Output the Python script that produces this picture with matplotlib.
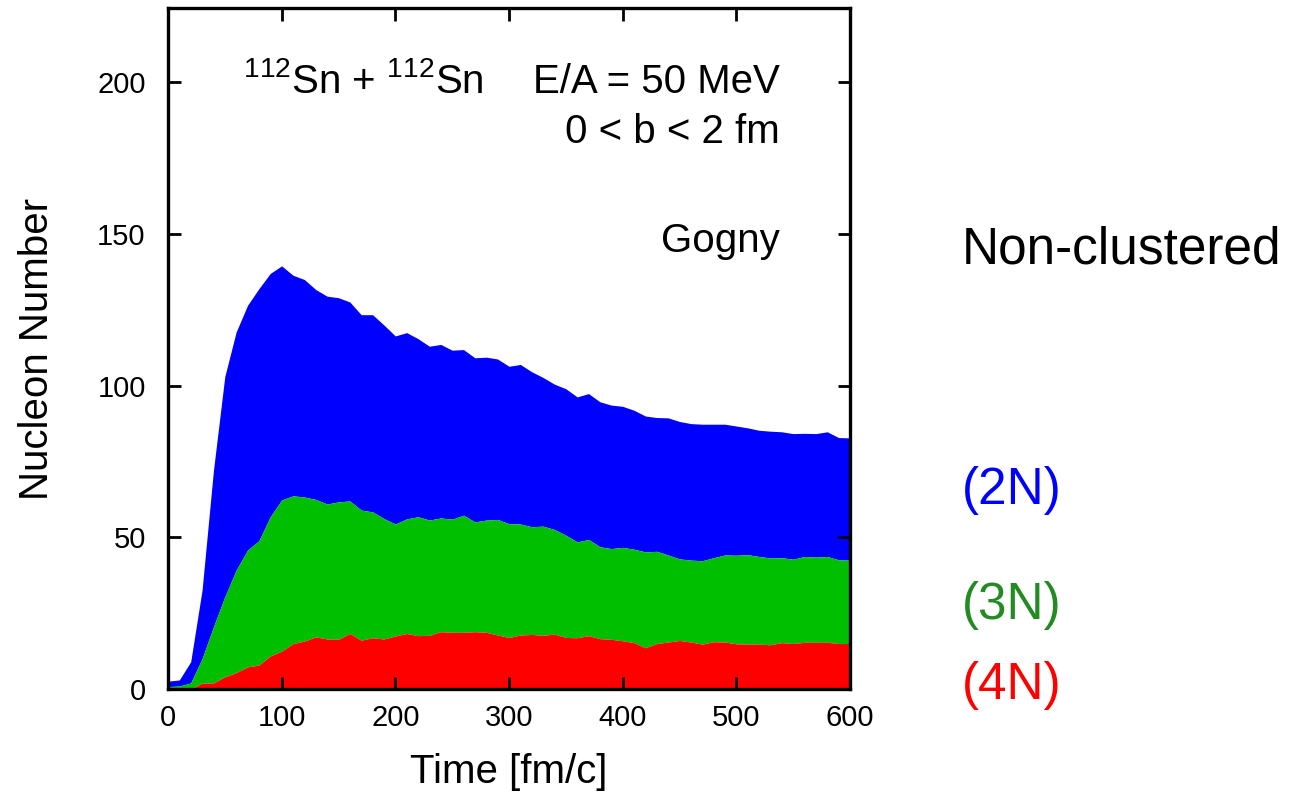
import numpy as np
import matplotlib
matplotlib.use("Agg")
import matplotlib.pyplot as plt

plt.rcParams['font.family'] = ['Liberation Sans', 'DejaVu Sans']
plt.rcParams['mathtext.fontset'] = 'custom'
plt.rcParams['mathtext.rm'] = 'Liberation Sans'
plt.rcParams['mathtext.default'] = 'regular'

# time grid [fm/c]
time = np.arange(0, 601, 10)

# upper boundaries of the stacked bands (cumulative nucleon number)
red_top = [0, 0, 0, 1.9, 2.0, 4.0, 5.4, 7.3, 7.9, 10.9,
           12.5, 15.0, 15.8, 17.2, 16.5, 16.4, 18.3, 16.1, 16.9, 16.5,
           17.5, 18.3, 17.6, 17.7, 18.9, 18.7, 18.7, 18.9, 18.7, 17.8,
           17.0, 17.8, 18.0, 17.7, 18.1, 17.0, 16.9, 17.6, 16.6, 16.4,
           15.9, 15.3, 13.6, 15.0, 15.5, 16.0, 15.5, 14.8, 15.6, 15.5,
           14.9, 14.8, 14.8, 14.6, 15.3, 15.0, 15.4, 15.4, 15.4, 15.0,
           15.0]
green_top = [0.8, 1.0, 2.0, 10.0, 20.5, 30.4, 39.2, 45.8, 48.9, 56.8,
             62.3, 63.7, 63.3, 62.5, 61.0, 61.7, 62.0, 59.0, 58.4, 56.2,
             54.4, 56.1, 56.8, 55.7, 56.4, 56.0, 57.3, 55.1, 55.7, 55.9,
             54.5, 54.4, 53.5, 53.7, 52.6, 50.7, 48.5, 49.3, 46.9, 46.3,
             46.7, 46.1, 45.2, 45.4, 44.2, 42.9, 42.5, 42.3, 43.3, 44.2,
             44.1, 44.3, 43.7, 43.2, 43.3, 42.8, 43.7, 43.5, 43.7, 42.6,
             42.5]
blue_top = [2.6, 3.0, 9.0, 32.6, 72.0, 103.0, 117.7, 126.5, 132.0, 137.0,
            139.5, 136.4, 135.0, 131.7, 129.5, 129.0, 127.6, 123.4, 123.4, 120.0,
            116.4, 117.5, 115.5, 113.0, 113.6, 111.7, 111.9, 109.2, 109.4, 108.8,
            106.4, 107.0, 104.6, 102.7, 100.5, 99.0, 96.3, 97.4, 94.7, 93.6,
            93.2, 91.9, 90.0, 89.5, 89.4, 88.2, 87.5, 87.3, 87.3, 87.3,
            86.7, 86.1, 85.3, 85.0, 84.8, 84.2, 84.3, 84.2, 84.8, 82.9,
            82.8]

labels = ["Non-clustered", "(2N)", "(3N)", "(4N)"]
label_colors = ["black", "#0000ff", "#228b22", "#ff0000"]
label_y = [0.685, 0.382, 0.237, 0.135]

fig = plt.figure(figsize=(12.89, 7.93), dpi=100)
ax = fig.add_axes([0.1303, 0.1311, 0.5291, 0.8588])

zero = np.zeros(len(time))
ax.fill_between(time, green_top, blue_top, color="#0000ff", lw=0)
ax.fill_between(time, red_top, green_top, color="#00bf00", lw=0)
ax.fill_between(time, zero, red_top, color="#ff0000", lw=0)

ax.set_xlim(0, 600)
ax.set_ylim(0, 224.5)
ax.set_xticks(np.arange(0, 601, 100))
ax.set_yticks(np.arange(0, 201, 50))
ax.tick_params(direction="in", length=9, width=2, top=True, right=True,
               labelsize=21)
ax.tick_params(axis="x", pad=11)
ax.tick_params(axis="y", pad=16)
for s in ax.spines.values():
    s.set_linewidth(2.4)
    s.set_zorder(5)

ax.set_xlabel("Time [fm/c]", fontsize=29, labelpad=15)
ax.set_ylabel("Nucleon Number", fontsize=29, labelpad=30)

ax.text(0.287, 0.875, r"$^{112}$Sn + $^{112}$Sn", transform=ax.transAxes,
        fontsize=29, ha="center", va="baseline")
ax.text(0.897, 0.875, "E/A = 50 MeV", transform=ax.transAxes,
        fontsize=29, ha="right", va="baseline")
ax.text(0.897, 0.802, "0 < b < 2 fm", transform=ax.transAxes,
        fontsize=29, ha="right", va="baseline")
ax.text(0.897, 0.642, "Gogny", transform=ax.transAxes,
        fontsize=29, ha="right", va="baseline")

for lab, col, y in zip(labels, label_colors, label_y):
    fig.text(0.746, y, lab, color=col, fontsize=37, ha="left", va="center")

fig.savefig("out.png", dpi=100)
